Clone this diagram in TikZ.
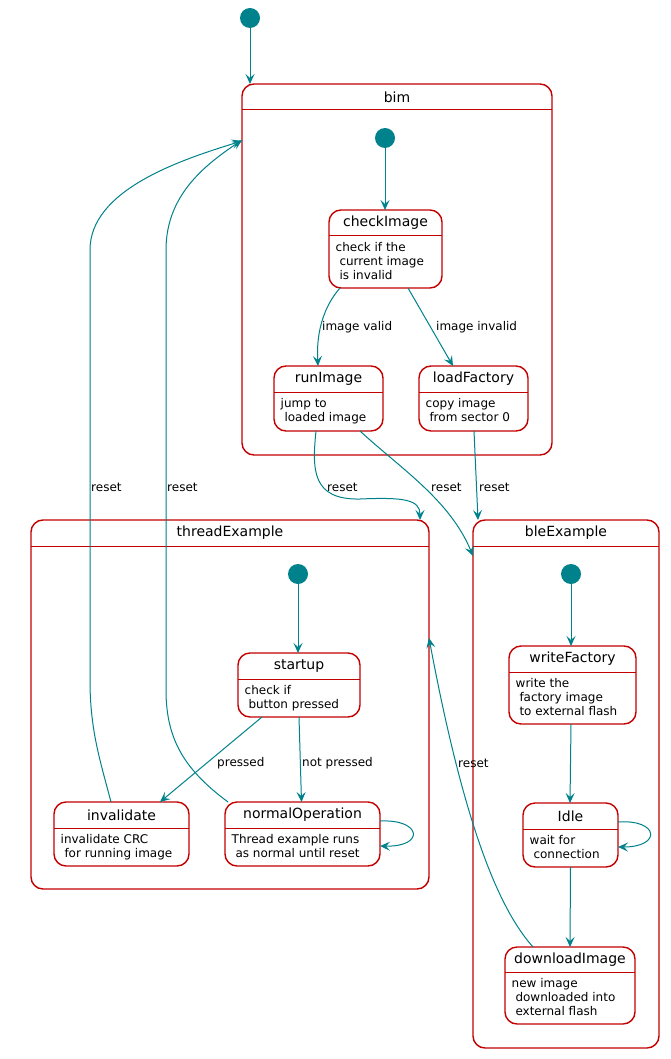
\documentclass[tikz,border=0pt]{standalone}
\usepackage{fontspec}
\setmainfont{DejaVu Sans}
\usetikzlibrary{arrows.meta}
\definecolor{teal0}{RGB}{0,130,140}
\definecolor{red0}{RGB}{195,0,0}
\tikzset{
 arr/.style={draw=teal0, line width=1pt, -{Stealth[length=10pt,width=9pt,inset=4pt]}},
 stbox/.style={draw=red0, line width=1.4pt, rounded corners=12pt, fill=white, inner sep=0, outer sep=0},
 cpbox/.style={draw=red0, line width=1.4pt, rounded corners=12pt, inner sep=0, outer sep=0},
 hline/.style={draw=red0, line width=1pt},
 sttitle/.style={font=\fontsize{14}{16}\selectfont, inner sep=0},
 stdesc/.style={font=\fontsize{12}{14.3}\selectfont, align=left, anchor=north west, inner sep=0},
 elabel/.style={font=\fontsize{12}{14}\selectfont, anchor=west, inner sep=0},
 init/.style={circle, fill=teal0, minimum size=20pt, inner sep=0, outer sep=0}
}
\newcommand\lsp{\hspace*{3.8pt}}
% name, x1, y1, x2, y2, header y, title, description
\newcommand\mkstate[8]{%
  \node[stbox, minimum width={(#4-#2)*1pt}, minimum height={(#5-#3)*1pt}] (#1) at ({(#2+#4)/2},{(#3+#5)/2}) {};
  \draw[hline] (#2,#6) -- (#4,#6);
  \node[sttitle] (#1-t) at ({(#2+#4)/2},{(#3+#6)/2}) {#7};
  \node[stdesc] (#1-d) at ({#2+6.5},{#6+6}) {#8};
}
\newcommand\mkcomp[7]{%
  \node[cpbox, minimum width={(#4-#2)*1pt}, minimum height={(#5-#3)*1pt}] (#1) at ({(#2+#4)/2},{(#3+#5)/2}) {};
  \draw[hline] (#2,#6) -- (#4,#6);
  \node[sttitle] (#1-t) at ({(#2+#4)/2},{(#3+#6)/2}) {#7};
}
\begin{document}
\begin{tikzpicture}[x=1pt,y=-1pt]
\useasboundingbox[fill=white] (0,0) rectangle (670,1059);

% composites
\mkcomp{bim}{242}{84}{552}{455}{110}{bim}
\mkcomp{threadExample}{31}{520}{429}{889}{546}{threadExample}
\mkcomp{bleExample}{473}{520}{659}{1048}{546}{bleExample}

% initial states
\node[init] (i0) at (250,18) {};
\node[init] (ibim) at (385,138) {};
\node[init] (ithread) at (298,574) {};
\node[init] (ible) at (571,574) {};

% states
\mkstate{checkImage}{329}{210}{442}{288}{236}{checkImage}{check if the\\\lsp current image\\\lsp is invalid}
\mkstate{runImage}{274}{366}{383}{431}{392}{runImage}{jump to\\\lsp loaded image}
\mkstate{loadFactory}{419}{366}{528}{431}{392}{loadFactory}{copy image\\\lsp from sector 0}
\mkstate{startup}{238}{653}{360}{717}{679}{startup}{check if\\\lsp button pressed}
\mkstate{invalidate}{54}{802}{189}{866}{828}{invalidate}{invalidate CRC\\\lsp for running image}
\mkstate{normalOperation}{225}{802}{380}{866}{828}{normalOperation}{Thread example runs\\\lsp as normal until reset}
\mkstate{writeFactory}{509}{646}{636}{724}{672}{writeFactory}{write the\\\lsp factory image\\\lsp to external flash}
\mkstate{Idle}{523}{803}{618}{867}{829}{Idle}{wait for\\\lsp connection}
\mkstate{downloadImage}{505}{947}{635}{1024}{972}{downloadImage}{new image\\\lsp downloaded into\\\lsp external flash}

% edges
\draw[arr] (i0) -- (i0 |- bim.north);
\draw[arr] (ibim) -- (ibim |- checkImage.north);
\draw[arr] ([xshift=-45.5pt]checkImage.south) .. controls (325,305) and (316,330) .. ([xshift=-10.5pt]runImage.north);
\draw[arr] ([xshift=22.5pt]checkImage.south) -- ([xshift=-20.5pt]loadFactory.north);
\draw[arr] ([xshift=-12.5pt]runImage.south) .. controls (312,470) and (312,500) .. (360,499) .. controls (405,497) and (420,500) .. ([xshift=190pt]threadExample.north);
\draw[arr] ([xshift=31.5pt]runImage.south) .. controls (400,468) and (450,500) .. ([yshift=-36pt]bleExample.north west);
\draw[arr] ([xshift=0.5pt]loadFactory.south) -- ([xshift=5pt]bleExample.north west);

\draw[arr] (ithread) -- (ithread |- startup.north);
\draw[arr] ([xshift=-37pt]startup.south) -- ([xshift=38.5pt]invalidate.north);
\draw[arr] (startup.south) -- ([xshift=-1pt]normalOperation.north);
\draw[arr] ([yshift=-19pt]normalOperation.north east) .. controls (422,819) and (425,847) .. ([yshift=-44pt]normalOperation.north east);
\draw[arr] ([xshift=-10.5pt]invalidate.north) .. controls (100,760) and (90,730) .. (90,680) -- (90,250) .. controls (90,190) and (180,160) .. ([yshift=-57pt]bim.north west);
\draw[arr] ([xshift=-74.5pt]normalOperation.north) .. controls (185,770) and (166,740) .. (166,690) -- (166,250) .. controls (166,195) and (205,165) .. ([yshift=-56pt]bim.north west);

\draw[arr] (ible) -- (ible |- writeFactory.north);
\draw[arr] ([xshift=-1.5pt]writeFactory.south) -- ([xshift=-0.5pt]Idle.north);
\draw[arr] ([yshift=-19pt]Idle.north east) .. controls (659,819) and (662,847) .. ([yshift=-44pt]Idle.north east);
\draw[arr] (Idle.south) -- (downloadImage.north);
\draw[arr] ([xshift=-37pt]downloadImage.north) .. controls (500,910) and (465,830) .. ([yshift=-118pt]threadExample.north east);

% edge labels
\node[elabel] (l1) at (322,327) {image valid};
\node[elabel] (l2) at (436,327) {image invalid};
\node[elabel] (l3) at (327,487) {reset};
\node[elabel] (l4) at (431,487) {reset};
\node[elabel] (l5) at (479,487) {reset};
\node[elabel] (l6) at (91,487) {reset};
\node[elabel] (l7) at (167,487) {reset};
\node[elabel] (l8) at (217,763) {pressed};
\node[elabel] (l9) at (302,763) {not pressed};
\node[elabel] (l10) at (458,763) {reset};
\end{tikzpicture}
\end{document}
